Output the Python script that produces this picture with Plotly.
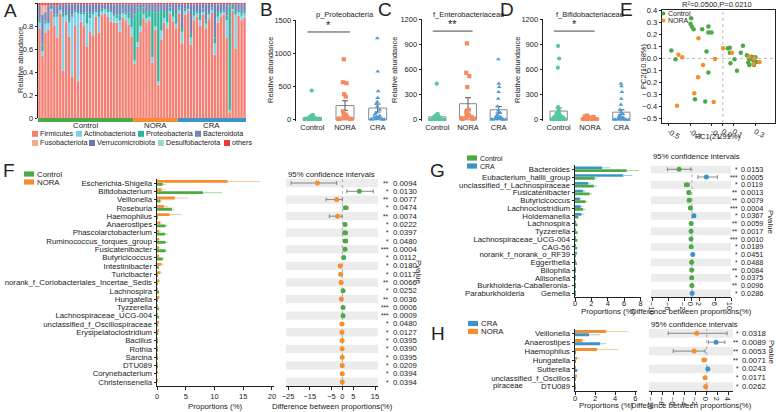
import numpy as np
import plotly.graph_objects as go

W, H = 776, 412
FONT = "Arial, 'Liberation Sans', Helvetica, sans-serif"

# ---------------- A: phylum composition per sample ----------------
groups = ["Control", "NORA", "CRA"]
group_sizes = [32, 15, 23]
firmicutes = [0.78, 0.54, 0.74, 0.77, 0.93, 0.80, 0.70, 0.91, 0.41, 0.84, 0.71, 0.36, 0.80, 0.32, 0.84, 0.80,
              0.62, 0.75, 0.72, 0.88, 0.74, 0.90, 0.91, 0.88, 0.84, 0.83, 0.83, 0.75, 0.87, 0.85, 0.81, 0.71,
              0.47, 0.62, 0.75, 0.87, 0.83, 0.85, 0.48, 0.77, 0.29, 0.68, 0.83, 0.78, 0.91, 0.84, 0.78,
              0.91, 0.65, 0.90, 0.93, 0.64, 0.85, 0.88, 0.80, 0.90, 0.78, 0.86, 0.92, 0.55, 0.83, 0.88, 0.90,
              0.70, 0.05, 0.93, 0.60, 0.89, 0.85, 0.87]
actinobacteriota = [0.05, 0.04, 0.08, 0.06, 0.02, 0.08, 0.18, 0.03, 0.47, 0.06, 0.12, 0.52, 0.12, 0.60, 0.06, 0.10,
                    0.20, 0.12, 0.18, 0.04, 0.14, 0.03, 0.04, 0.05, 0.08, 0.06, 0.04, 0.10, 0.04, 0.05, 0.06, 0.08,
                    0.03, 0.04, 0.05, 0.03, 0.04, 0.03, 0.05, 0.03, 0.03, 0.08, 0.04, 0.05, 0.02, 0.04, 0.04,
                    0.03, 0.10, 0.03, 0.02, 0.06, 0.04, 0.03, 0.05, 0.02, 0.04, 0.04, 0.02, 0.10, 0.05, 0.03, 0.02,
                    0.15, 0.02, 0.02, 0.30, 0.03, 0.04, 0.04]
proteobacteria = [0.03, 0.06, 0.02, 0.01, 0.01, 0.02, 0.02, 0.01, 0.03, 0.01, 0.02, 0.02, 0.02, 0.01, 0.02, 0.02,
                  0.10, 0.03, 0.02, 0.02, 0.03, 0.02, 0.01, 0.01, 0.02, 0.02, 0.03, 0.04, 0.03, 0.02, 0.05, 0.08,
                  0.40, 0.30, 0.12, 0.06, 0.05, 0.06, 0.40, 0.12, 0.60, 0.18, 0.06, 0.10, 0.03, 0.06, 0.08,
                  0.02, 0.05, 0.02, 0.01, 0.04, 0.03, 0.02, 0.05, 0.03, 0.03, 0.02, 0.02, 0.05, 0.04, 0.02, 0.02,
                  0.04, 0.90, 0.01, 0.03, 0.02, 0.02, 0.02]
bacteroidota = [0.12, 0.26, 0.08, 0.14, 0.03, 0.08, 0.08, 0.04, 0.08, 0.08, 0.14, 0.09, 0.05, 0.06, 0.07, 0.07,
                0.07, 0.09, 0.07, 0.05, 0.08, 0.04, 0.03, 0.05, 0.05, 0.08, 0.09, 0.10, 0.05, 0.07, 0.07, 0.12,
                0.09, 0.03, 0.07, 0.03, 0.07, 0.05, 0.06, 0.07, 0.07, 0.05, 0.06, 0.06, 0.03, 0.05, 0.09,
                0.03, 0.19, 0.04, 0.03, 0.25, 0.07, 0.06, 0.09, 0.04, 0.14, 0.07, 0.03, 0.29, 0.07, 0.06, 0.05,
                0.10, 0.02, 0.03, 0.06, 0.05, 0.08, 0.06]
fusobacteriota = [0, 0.08, 0.06, 0, 0, 0, 0, 0, 0, 0, 0, 0, 0, 0, 0, 0,
                  0, 0, 0, 0, 0, 0, 0, 0, 0, 0, 0, 0, 0, 0, 0, 0,
                  0, 0, 0, 0, 0, 0, 0, 0, 0, 0, 0, 0, 0, 0, 0,
                  0, 0, 0, 0, 0, 0, 0, 0, 0, 0, 0, 0, 0, 0, 0, 0,
                  0, 0, 0, 0, 0, 0, 0]
verrucomicrobiota = [0, 0, 0, 0, 0, 0, 0, 0, 0, 0, 0, 0, 0, 0, 0, 0,
                     0, 0, 0, 0, 0, 0, 0, 0, 0, 0, 0, 0, 0, 0, 0, 0,
                     0, 0, 0, 0, 0, 0, 0, 0, 0, 0, 0, 0, 0, 0, 0,
                     0, 0, 0, 0, 0, 0, 0, 0, 0, 0, 0, 0, 0, 0, 0, 0,
                     0, 0, 0, 0, 0, 0, 0]
desulfobacterota = [0, 0, 0, 0, 0, 0, 0, 0, 0, 0, 0, 0, 0, 0, 0, 0,
                    0, 0, 0, 0, 0, 0, 0, 0, 0, 0, 0, 0, 0, 0, 0, 0,
                    0, 0, 0, 0, 0, 0, 0, 0, 0, 0, 0, 0, 0, 0, 0,
                    0, 0, 0, 0, 0, 0, 0, 0, 0, 0, 0, 0, 0, 0, 0, 0,
                    0, 0, 0, 0, 0, 0, 0]
others = [0.02] * 70
phyla = ["Firmicutes", "Actinobacteriota", "Proteobacteria", "Bacteroidota",
         "Fusobacteriota", "Verrucomicrobiota", "Desulfobacterota", "others"]
phylum_values = [firmicutes, actinobacteriota, proteobacteria, bacteroidota,
                 fusobacteriota, verrucomicrobiota, desulfobacterota, others]
phylum_colors = ["#F47F72", "#7CD2EA", "#2DB49A", "#7782B8", "#F8A790", "#6B78B0", "#98D9C9", "#EE3B30"]

# ---------------- B-D: relative abundance per sample ----------------
proteo_vals = {
    "Control": [440, 75, 60, 55, 50, 45, 40, 38, 35, 30, 28, 25, 22, 20, 18, 15, 12, 10, 8, 6, 5, 4, 3, 2, 2, 1, 1, 0, 0, 0, 62, 48],
    "NORA": [910, 550, 565, 385, 350, 125, 90, 75, 50, 40, 25, 20, 15, 10, 5],
    "CRA": [1225, 725, 430, 330, 270, 240, 200, 150, 100, 80, 60, 50, 40, 35, 30, 25, 20, 15, 12, 10, 8, 5, 3],
}
entero_vals = {
    "Control": [430, 70, 60, 55, 50, 45, 40, 35, 30, 28, 25, 22, 20, 18, 15, 12, 10, 8, 6, 5, 4, 3, 2, 2, 1, 1, 0, 0, 0, 58, 44, 36],
    "NORA": [910, 560, 520, 390, 120, 90, 70, 60, 45, 35, 25, 20, 15, 10, 5],
    "CRA": [720, 430, 390, 330, 250, 160, 110, 80, 60, 45, 35, 30, 25, 20, 15, 12, 10, 8, 6, 5, 4, 3, 2],
}
bifido_vals = {
    "Control": [880, 730, 620, 150, 120, 100, 90, 80, 70, 60, 55, 50, 45, 40, 35, 30, 28, 25, 22, 20, 18, 15, 12, 10, 8, 6, 5, 4, 3, 2, 1, 0],
    "NORA": [50, 40, 35, 30, 25, 20, 18, 15, 12, 10, 8, 6, 4, 2, 1],
    "CRA": [430, 400, 330, 250, 180, 120, 90, 70, 50, 40, 30, 25, 20, 15, 10, 8, 6, 5, 4, 3, 2, 1, 0],
}

# ---------------- E: PCoA ----------------
pc_ctrl_x = [-0.292, -0.298, -0.286, -0.269, -0.19, -0.133, -0.133, -0.104, -0.474, -0.436, -0.15, -0.133, -0.257,
             -0.162, 0.046, 0.064, 0.064, 0.107, 0.07, 0.13, 0.185, 0.165, 0.222, 0.243, 0.234, 0.263, 0.28, 0.286,
             0.243, 0.286, 0.30, 0.31]
pc_ctrl_y = [0.336, 0.289, 0.267, 0.245, 0.245, 0.267, 0.217, 0.217, 0.066, -0.007, 0.058, -0.118, -0.341, -0.360,
             0.085, 0.09, 0.047, -0.007, -0.04, -0.104, 0.105, 0.047, 0.027, -0.007, -0.035, 0.013, -0.015, 0.007,
             -0.054, -0.054, 0.01, -0.03]
pc_nora_x = [-0.225, -0.408, -0.373, -0.072, -0.182, -0.228, -0.263, -0.422, -0.084, 0.003, 0.084, 0.243, 0.28, 0.338, 0.29]
pc_nora_y = [0.169, 0.03, 0.01, -0.004, -0.054, -0.157, -0.291, -0.396, -0.365, 0.085, 0.047, 0.013, -0.046, -0.029, 0.0]

# ---------------- F: Control vs NORA ----------------
f_genus = ["Escherichia-Shigella", "Bifidobacterium", "Veillonella", "Roseburia", "Haemophilus", "Anaerostipes",
           "Phascolarctobacterium", "Ruminococcus_torques_group", "Fusicatenibacter", "Butyricicoccus",
           "Intestinibacter", "Turicibacter", "norank_f_Coriobacteriales_Incertae_Sedis", "Lachnospira",
           "Hungatella", "Tyzzerella", "Lachnospiraceae_UCG-004", "unclassified_f_Oscillospiraceae",
           "Erysipelatoclostridium", "Bacillus", "Rothia", "Sarcina", "DTU089", "Corynebacterium", "Christensenella"]
f_nora = [12.3, 0.8, 3.1, 1.2, 2.2, 0.6, 0.4, 0.3, 0.3, 0.3, 0.8, 0.6, 0.4, 0.05, 0.4, 0.03, 0.03, 0.2, 0.2, 0.15,
          0.12, 0.1, 0.08, 0.05, 0.05]
f_nora_se = [5.6, 0.5, 2.3, 0.8, 2.1, 0.3, 0.3, 0.2, 0.2, 0.2, 0.4, 0.3, 0.2, 0.05, 0.2, 0.02, 0.02, 0.1, 0.15, 0.1,
             0.08, 0.08, 0.06, 0.05, 0.04]
f_ctrl = [1.0, 8.0, 0.6, 2.6, 0.05, 1.5, 1.4, 1.5, 1.5, 1.0, 0.2, 0.1, 0.05, 0.3, 0.05, 0.3, 0.3, 0.02, 0.02, 0.01,
          0.01, 0.01, 0.01, 0.0, 0.0]
f_ctrl_se = [0.5, 3.3, 0.3, 0.4, 0.03, 0.4, 0.6, 0.5, 0.3, 0.3, 0.1, 0.05, 0.03, 0.1, 0.03, 0.1, 0.1, 0.01, 0.01,
             0.01, 0.01, 0.01, 0.01, 0.0, 0.0]
f_diff = [-11.5, 7.8, -2.6, 1.5, -2.2, 1.2, 1.2, 1.4, 1.2, 0.6, -1.0, -0.8, -0.6, 0.3, -0.5, 0.3, 0.3, -0.2, -0.2,
          -0.15, -0.12, -0.1, -0.08, -0.05, -0.05]
f_lo = [-23.6, 2.0, -7.5, 0.4, -6.0, 0.6, 0.3, 0.5, 0.6, 0.3, -1.7, -1.4, -1.0, 0.1, -0.9, 0.1, 0.1, -0.4, -0.4,
        -0.3, -0.25, -0.2, -0.16, -0.1, -0.1]
f_hi = [-2.6, 14.2, 0.0, 2.6, -0.2, 1.8, 2.2, 2.3, 1.8, 1.1, -0.4, -0.3, -0.2, 0.5, -0.1, 0.5, 0.5, -0.05, -0.05,
        -0.02, -0.02, -0.02, -0.01, -0.01, -0.01]
f_stars = ["**", "*", "**", "*", "**", "*", "*", "*", "***", "*", "*", "*", "**", "*", "**", "***", "***", "*", "*",
           "*", "*", "*", "*", "*", "*"]
f_pval = ["0.0094", "0.0130", "0.0077", "0.0474", "0.0074", "0.0222", "0.0397", "0.0480", "0.0004", "0.0112",
          "0.0180", "0.0117", "0.0066", "0.0252", "0.0036", "0.0006", "0.0009", "0.0480", "0.0127", "0.0395",
          "0.0390", "0.0395", "0.0209", "0.0394", "0.0394"]

# ---------------- G: Control vs CRA ----------------
g_genus = ["Bacteroides", "Eubacterium_hallii_group", "unclassified_f_Lachnospiraceae", "Fusicatenibacter",
           "Butyricicoccus", "Lachnoclostridium", "Holdemanella", "Lachnospira", "Tyzzerella",
           "Lachnospiraceae_UCG-004", "CAG-56", "norank_f_norank_o_RF39", "Eggerthella", "Bilophila",
           "Allisonella", "Burkholderia-Caballeronia-", "Gemella"]
g_cra = [3.3, 5.9, 1.6, 1.0, 0.6, 0.7, 0.8, 0.1, 0.05, 0.05, 0.05, 0.2, 0.03, 0.02, 0.01, 0.01, 0.05]
g_cra_se = [1.0, 1.1, 0.3, 0.3, 0.2, 0.3, 0.3, 0.05, 0.03, 0.03, 0.03, 0.1, 0.02, 0.01, 0.01, 0.01, 0.03]
g_ctrl = [6.3, 2.4, 2.3, 1.8, 1.3, 1.0, 0.4, 0.3, 0.3, 0.3, 0.25, 0.02, 0.15, 0.1, 0.1, 0.05, 0.01]
g_ctrl_se = [1.5, 0.4, 0.4, 0.3, 0.3, 0.3, 0.1, 0.1, 0.1, 0.1, 0.08, 0.01, 0.05, 0.04, 0.04, 0.02, 0.01]
g_diff = [-3.3, 3.7, -1.3, -0.8, -0.7, -0.4, 0.5, -0.2, -0.25, -0.25, -0.2, 0.2, -0.1, -0.08, -0.08, -0.04, 0.04]
g_lo = [-6.3, 1.5, -1.9, -1.2, -1.1, -0.7, 0.1, -0.35, -0.4, -0.4, -0.35, 0.05, -0.2, -0.15, -0.15, -0.07, 0.01]
g_hi = [-0.3, 6.5, -0.7, -0.4, -0.3, -0.1, 0.9, -0.05, -0.1, -0.1, -0.05, 0.35, -0.02, -0.01, -0.01, -0.01, 0.08]
g_stars = ["*", "***", "*", "**", "**", "***", "*", "**", "**", "***", "*", "*", "*", "**", "*", "**", "*"]
g_pval = ["0.0153", "0.0005", "0.0119", "0.0013", "0.0079", "0.0004", "0.0367", "0.0059", "0.0017", "0.0010",
          "0.0189", "0.0451", "0.0488", "0.0084", "0.0375", "0.0096", "0.0286"]

# ---------------- H: CRA vs NORA ----------------
h_genus = ["Veillonella", "Anaerostipes", "Haemophilus", "Hungatella", "Sutterella", "unclassified_f_Oscillos", "DTU089"]
h_nora = [3.1, 0.75, 2.2, 0.2, 0.02, 0.15, 0.05]
h_nora_se = [2.2, 0.25, 2.1, 0.3, 0.01, 0.05, 0.03]
h_cra = [1.4, 2.5, 0.05, 0.02, 0.2, 0.02, 0.03]
h_cra_se = [1.1, 0.6, 0.03, 0.01, 0.2, 0.01, 0.01]
h_diff = [-1.8, 1.7, -2.3, -0.5, 0.2, -0.3, -0.2]
h_lo = [-7.0, 0.3, -6.1, -0.8, 0.05, -0.45, -0.3]
h_hi = [3.7, 3.3, -0.3, -0.2, 0.4, -0.1, -0.05]
h_stars = ["*", "**", "**", "**", "*", "*", "*"]
h_pval = ["0.0318", "0.0089", "0.0053", "0.0071", "0.0243", "0.0171", "0.0262"]

# ---------------- colours ----------------
GREEN, ORANGE, BLUE = "#4CA946", "#F68D2E", "#3F93C6"
GREEN_L, ORANGE_L, BLUE_L = "#A9D7A3", "#FAC799", "#9FCBE6"
DOT_COL = {"Control": "#55C89E", "NORA": "#F58A5E", "CRA": "#4C9BD6"}
DOT_SYM = {"Control": "circle", "NORA": "square", "CRA": "triangle-up"}


def dx(a, b):
    return [a / W, b / W]


def dy(top, bottom):
    return [1 - bottom / H, 1 - top / H]


ann = []
shapes = []


def text(x, y, s, size=7.5, xa="center", ya="middle", angle=0, color="#222", xref="paper", yref="paper"):
    if xref == "paper":
        x = x / W
    if yref == "paper":
        y = 1 - y / H
    ann.append(dict(x=x, y=y, xref=xref, yref=yref, text=s, showarrow=False, xanchor=xa, yanchor=ya,
                    textangle=angle, borderpad=0, font=dict(size=size, color=color, family=FONT)))


def prect(x0, y0, x1, y1, color):
    shapes.append(dict(type="rect", xref="paper", yref="paper", x0=x0 / W, x1=x1 / W,
                       y0=1 - y1 / H, y1=1 - y0 / H, fillcolor=color, line=dict(width=0)))


def axis(domain, anchor, **kw):
    d = dict(domain=domain, anchor=anchor, showgrid=False, zeroline=False, showline=True,
             linecolor="#222", linewidth=0.8, ticks="outside", ticklen=2.5, tickwidth=0.8,
             tickcolor="#222", tickfont=dict(size=7.5, color="#222", family=FONT), automargin=False)
    d.update(kw)
    return d


fig = go.Figure()
lay = {}

# ======================= A =======================
idx = list(range(len(firmicutes)))
base = np.zeros(len(firmicutes))
for name, vals, col in zip(phyla, phylum_values, phylum_colors):
    vals = np.array(vals, dtype=float)
    fig.add_trace(go.Bar(x=idx, y=vals, base=base.copy(), marker=dict(color=col, line=dict(width=0)),
                         width=0.8, xaxis="x", yaxis="y", name=name))
    base += vals
lay["xaxis"] = axis(dx(38, 246), "y", range=[-0.5, len(idx) - 0.5], showline=False, ticks="",
                    showticklabels=False)
lay["yaxis"] = axis(dy(3, 118), "x", range=[0, 1], tickvals=[0, 0.2, 0.4, 0.6, 0.8, 1],
                    ticktext=["0", "0.2", "0.4", "0.6", "0.8", "1"])
start = -0.5
for g, n in zip(groups, group_sizes):
    shapes.append(dict(type="rect", xref="x", yref="paper", x0=start, x1=start + n,
                       y0=1 - 122 / H, y1=1 - 118 / H, fillcolor={"Control": GREEN, "NORA": ORANGE, "CRA": BLUE}[g],
                       line=dict(width=0)))
    text(start + n / 2, 125.5, g, size=7.8, xref="x")
    start += n
text(21, 60, "Relative abundance", angle=-90, size=7.5)
leg_rows = [(133.8, [32, 76, 138, 195]), (143, [32, 89, 158, 224])]
for r, (yy, xs) in enumerate(leg_rows):
    for k, xx in enumerate(xs):
        i = r * 4 + k
        prect(xx, yy - 3, xx + 6, yy + 3, phylum_colors[i])
        text(xx + 7, yy, phyla[i], size=7.2, xa="left")

# ======================= B, C, D =======================
panels = [
    (2, proteo_vals, "p_Proteobacteria", [0, 500, 1000, 1500], 1500, 1320, "*", (296, 394), (20, 121), 270, 266),
    (3, entero_vals, "f_Enterobacteriaceae", [0, 300, 600, 900, 1200], 1200, 1056, "**", (422, 514), (19, 121), 394, 385),
    (4, bifido_vals, "f_Bifidobacteriaceae", [0, 300, 600, 900, 1200], 1200, 1056, "*", (543, 637), (19, 121), 517, 507),
]
for n, data, title, tv, ymax, sig_y, star, xd, yd, title_x, letter_x in panels:
    xa, ya = f"x{n}", f"y{n}"
    means = [np.mean(data[g]) for g in groups]
    sems = [np.std(data[g], ddof=1) / np.sqrt(len(data[g])) for g in groups]
    fig.add_trace(go.Bar(x=groups, y=means, width=0.55, xaxis=xa, yaxis=ya,
                         marker=dict(color="rgba(255,255,255,0)", line=dict(color="#8A8A8A", width=1)),
                         error_y=dict(type="data", array=sems, color="#555", thickness=1, width=3)))
    for g in groups:
        fig.add_trace(go.Box(x=[g] * len(data[g]), y=data[g], xaxis=xa, yaxis=ya, boxpoints="all", jitter=0.85,
                             pointpos=0, width=0.7, fillcolor="rgba(0,0,0,0)", line=dict(width=0),
                             marker=dict(color=DOT_COL[g], symbol=DOT_SYM[g], size=4.2)))
    lay[f"xaxis{n}"] = axis(dx(*xd), ya, type="category", categoryorder="array", categoryarray=groups,
                            range=[-0.5, 2.5], showline=False, ticks="")
    lay[f"yaxis{n}"] = axis(dy(*yd), xa, range=[-ymax * 0.012, ymax], tickvals=tv)
    shapes.append(dict(type="line", xref=xa, yref=ya, x0=-0.15, x1=1.15, y0=sig_y, y1=sig_y,
                       line=dict(color="#333", width=0.9)))
    text(0.5, sig_y, star, size=11, xref=xa, yref=ya, ya="bottom")
    text((xd[0] + xd[1]) / 2, 15, title, size=7.5)
    text(title_x, 70, "Relative abundance", angle=-90, size=7.5)
    text(letter_x, 10, "BCD"[n - 2], size=19)

# ======================= E =======================
fig.add_trace(go.Scatter(x=pc_ctrl_x, y=pc_ctrl_y, mode="markers", xaxis="x5", yaxis="y5",
                         marker=dict(color=GREEN, size=4.5)))
fig.add_trace(go.Scatter(x=pc_nora_x, y=pc_nora_y, mode="markers", xaxis="x5", yaxis="y5",
                         marker=dict(color=ORANGE, size=4.5)))
lay["xaxis5"] = axis(dx(662, 775), "y5", range=[-0.56, 0.48], mirror=True, ticklabelstandoff=-2,
                     tickvals=[-0.5, -0.3, -0.1, 0.0, 0.1, 0.3], ticktext=["-0.5", "-0.3", "-0.1", "0.0", "0.1", "0.3"])
lay["yaxis5"] = axis(dy(10, 123), "x5", range=[-0.54, 0.405], mirror=True,
                     tickvals=[0.4, 0.3, 0.2, 0.1, 0.0, -0.1, -0.2, -0.3, -0.4, -0.5], tickformat=".1f")
for s in [dict(x0=0, x1=0, y0=0, y1=1, xref="x5", yref="y5 domain"),
          dict(x0=0, x1=1, y0=0, y1=0, xref="x5 domain", yref="y5")]:
    s.update(type="line", line=dict(color="#AAA", width=0.8, dash="dot"), layer="below")
    shapes.append(s)
text(717, 4.5, "R²=0.0500,P=0.0210", size=7.5)
text(643, 66, "PC2(10.98%)", angle=-90, size=7.5)
text(718, 136, "PC1(21.91%)", size=7.5)
text(626, 10, "E", size=19)
for yy, col, lab in [(13.5, GREEN, "Control"), (20.5, ORANGE, "NORA")]:
    shapes.append(dict(type="circle", xref="paper", yref="paper", x0=661.5 / W, x1=665.5 / W,
                       y0=1 - (yy + 2) / H, y1=1 - (yy - 2) / H, fillcolor=col, line=dict(width=0)))
    text(667, yy, lab, size=7, xa="left")


# ======================= F, G, H =======================
def comparison(nb, nc, genus, top_vals, top_se, top_col, top_light, bot_vals, bot_se, bot_col, bot_light,
               diff, lo, hi, pos_col, neg_col, stars, pvals, bar_dom, ci_dom, ydom, bar_range, bar_ticks,
               ci_range, ci_ticks, star_x, p_x, pv_label_x, pv_label_y, ci_title_y, title_y, standoff, pfs):
    n = len(genus)
    rows = list(range(n))
    xb, yb, xc, yc = f"x{nb}", f"y{nb}", f"x{nc}", f"y{nc}"
    for vals, se, col, light, off in [(top_vals, top_se, top_col, top_light, -0.36),
                                      (bot_vals, bot_se, bot_col, bot_light, 0.0)]:
        fig.add_trace(go.Bar(x=vals, y=rows, orientation="h", xaxis=xb, yaxis=yb, width=0.34, offset=off,
                             marker=dict(color=col, line=dict(width=0)),
                             error_x=dict(type="data", array=se, arrayminus=[0] * n, symmetric=False,
                                          color=light, thickness=1, width=0)))
    diff = np.array(diff)
    cols = [pos_col if d > 0 else neg_col for d in diff]
    fig.add_trace(go.Scatter(x=diff, y=rows, mode="markers", xaxis=xc, yaxis=yc,
                             marker=dict(color=cols, size=5),
                             error_x=dict(type="data", array=np.array(hi) - diff, arrayminus=diff - np.array(lo),
                                          symmetric=False, color="#7A7A7A", thickness=0.9, width=2)))
    yr = [n - 0.5, -0.5]
    lay[f"xaxis{nb}"] = axis(dx(*bar_dom), yb, range=bar_range, tickvals=bar_ticks, ticklabelstandoff=standoff)
    lay[f"yaxis{nb}"] = axis(dy(*ydom), xb, range=yr, tickvals=rows, ticktext=genus,
                             tickfont=dict(size=7.8, color="#222", family=FONT))
    lay[f"xaxis{nc}"] = axis(dx(*ci_dom), yc, range=ci_range, tickvals=ci_ticks, ticklabelstandoff=standoff)
    lay[f"yaxis{nc}"] = axis(dy(*ydom), xc, range=yr, visible=False)
    for i in rows[::2]:
        shapes.append(dict(type="rect", xref=f"{xc} domain", yref=yc, x0=0, x1=1, y0=i - 0.5, y1=i + 0.5,
                           fillcolor="#ECECEC", line=dict(width=0), layer="below"))
    shapes.append(dict(type="line", xref=xc, yref=f"{yc} domain", x0=0, x1=0, y0=0, y1=1,
                       line=dict(color="#999", width=0.8, dash="dot"), layer="below"))
    for i in rows:
        text(star_x, i, stars[i], size=6.5, xa="right", yref=yc)
        text(p_x, i, pvals[i], size=pfs, xa="left", yref=yc)
    text(pv_label_x, pv_label_y, "Pvalue", size=7.8, angle=90)
    text(ci_dom[0] + 1, ci_title_y, "95% confidence intervals", size=7.8, xa="left")
    text((bar_dom[0] + bar_dom[1]) / 2, title_y, "Proportions (%)", size=7.8)
    text((ci_dom[0] + ci_dom[1]) / 2, title_y, "Difference between proportions(%)", size=7.8)


comparison(6, 7, f_genus, f_nora, f_nora_se, ORANGE, ORANGE_L, f_ctrl, f_ctrl_se, GREEN, GREEN_L,
           f_diff, f_lo, f_hi, GREEN, ORANGE, f_stars, f_pval, (157, 274), (286, 378), (178.85, 386.15),
           [0, 20.35], [0, 5, 10, 15, 20], [-25.93, 16.37], [-25, -15, -5, 0, 5, 15],
           389.5, 391.5, 419, 272, 174, 406.5, 0, 7.8)
comparison(8, 9, g_genus, g_cra, g_cra_se, BLUE, BLUE_L, g_ctrl, g_ctrl_se, GREEN, GREEN_L,
           g_diff, g_lo, g_hi, BLUE, GREEN, g_stars, g_pval, (575, 641), (651, 731), (165.4, 297.2),
           [0, 8.05], [0, 2, 4, 6, 8], [-10.5, 10.0], [-10, -6, -2, 0, 2, 6, 10],
           738.5, 740, 771, 222, 157, 311.5, -4, 7.3)
comparison(10, 11, h_genus, h_nora, h_nora_se, ORANGE, ORANGE_L, h_cra, h_cra_se, BLUE, BLUE_L,
           h_diff, h_lo, h_hi, BLUE, ORANGE, h_stars, h_pval, (575, 637.3), (649, 733), (328.85, 391.15),
           [0, 6.2], [0, 2, 4, 6], [-10.5, 4.78], [-10, -8, -6, -4, -2, 0, 2, 4],
           739.5, 741, 772, 352, 324, 405.5, -3, 7.8)

text(495, 16, "Paraburkholderia", size=7.8, yref="y8")
text(508, 5.85, "piraceae", size=7.8, yref="y10")

# legends and letters for F, G, H
for (x0, ys, labs, cols, fs) in [(24, [174, 182], ["Control", "NORA"], [GREEN, ORANGE], 7.8),
                                 (467, [158, 166], ["Control", "CRA"], [GREEN, BLUE], 7.0),
                                 (468, [323.5, 331.5], ["CRA", "NORA"], [BLUE, ORANGE], 7.8)]:
    for yy, lab, col in zip(ys, labs, cols):
        prect(x0, yy - 2.6, x0 + 10, yy + 2.6, col)
        text(x0 + 12, yy, lab, size=fs, xa="left")
text(10, 11, "A", size=19)
text(9, 171, "F", size=19)
text(437, 171, "G", size=19)
text(438, 333, "H", size=19)

fig.update_layout(**lay)
fig.update_layout(width=W, height=H, margin=dict(l=0, r=0, t=0, b=0), paper_bgcolor="white",
                  plot_bgcolor="white", showlegend=False, barmode="overlay", boxmode="overlay",
                  font=dict(family=FONT, size=7.5, color="#222"), annotations=ann, shapes=shapes)
fig.write_html("out.html", config={"displayModeBar": False},
               post_script="document.body.style.margin='0px';")
